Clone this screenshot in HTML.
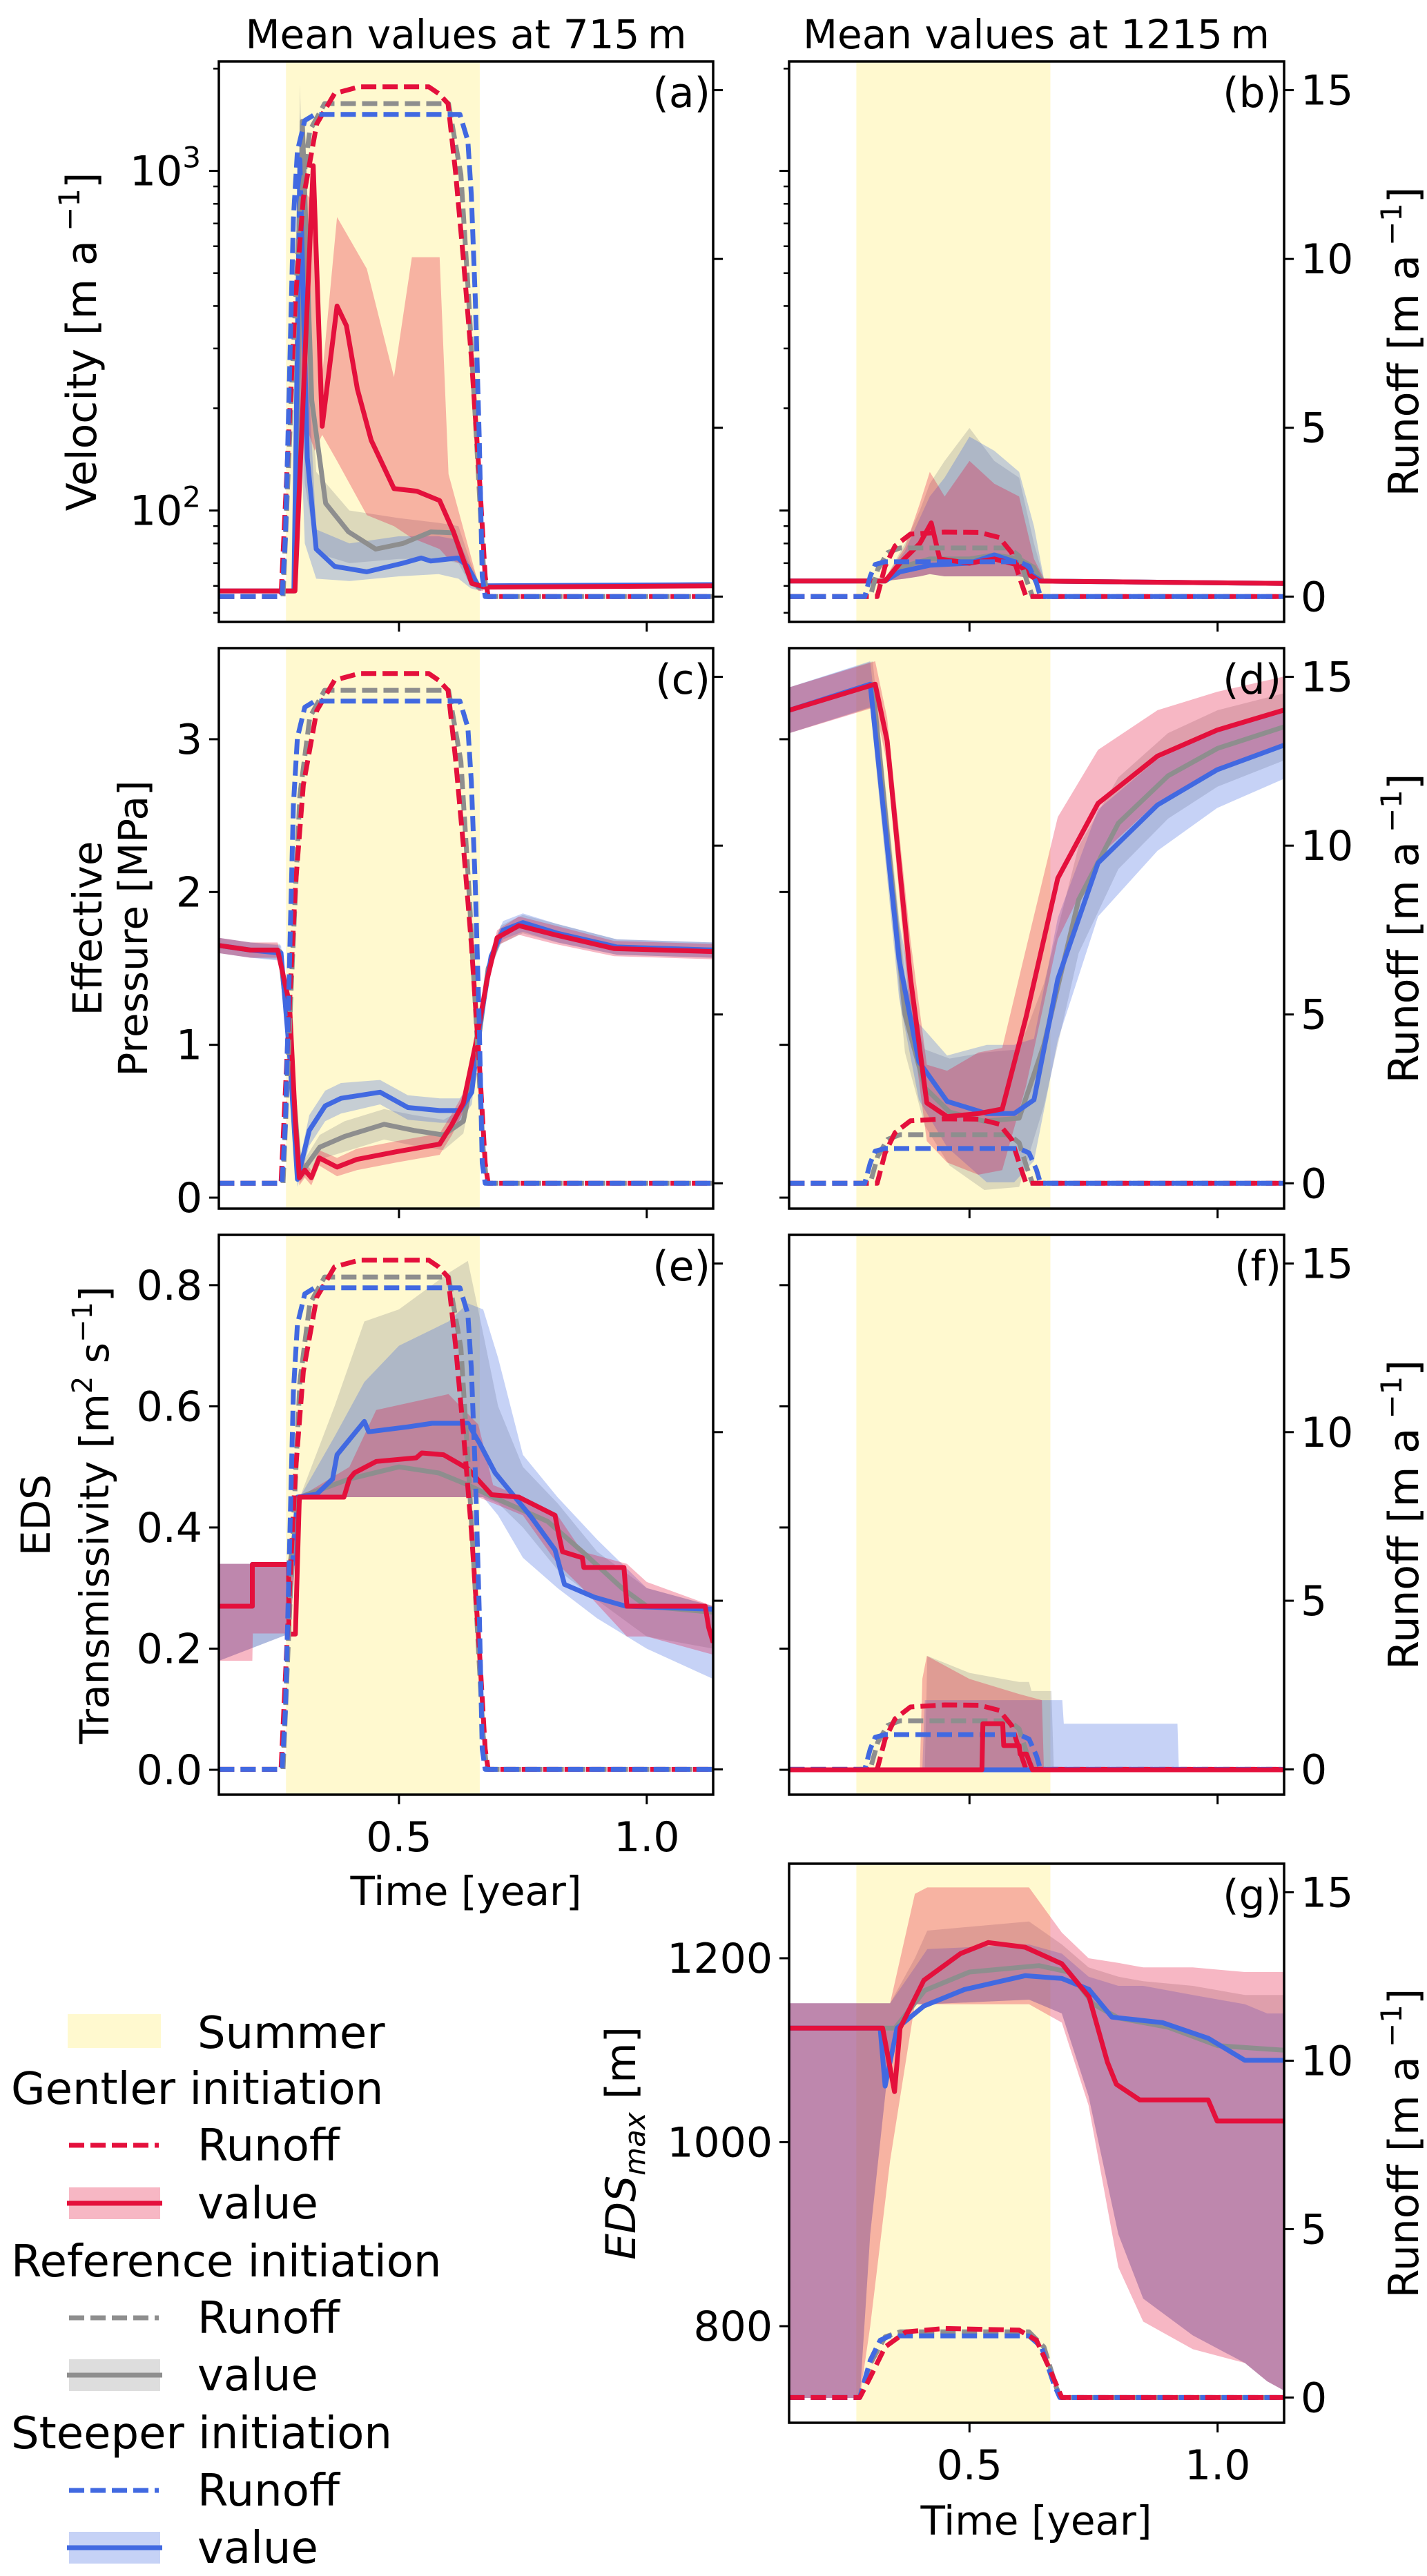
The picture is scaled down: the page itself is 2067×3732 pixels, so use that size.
<!DOCTYPE html>
<html><head><meta charset="utf-8"><style>
html,body{margin:0;padding:0;background:#fff}
svg{display:block}
text{font-family:"DejaVu Sans","Liberation Sans",sans-serif;fill:#000}
</style></head><body>
<svg id="fig" width="2067" height="3732" viewBox="0 0 2067 3732" xmlns="http://www.w3.org/2000/svg"></svg>
<script>
// ---------- DATA ----------
const summerStart = 0.272, summerEnd = 0.663;
const xTicks = [0.5, 1.0];
const xTickLabels = ["0.5", "1.0"];
const runoffTicks = [0, 5, 10, 15];

// Runoff 715 m
const runRed715T = [0.137,0.262,0.279,0.291,0.307,0.334,0.37,0.42,0.56,0.58,0.599,0.614,0.63,0.646,0.662,0.674,0.68,1.134];
const runRed715V = [0,0,5.3,8.8,11.8,14.0,14.9,15.1,15.1,14.9,14.6,12.6,10,7.1,3.6,0.6,0,0];
const runGray715T = [0.137,0.266,0.283,0.3,0.32,0.35,0.6,0.625,0.64,0.655,0.67,0.677,1.134];
const runGray715V = [0,0,6,11.5,13.8,14.6,14.6,12.5,9,5,1,0,0];
const runBlue715T = [0.137,0.264,0.271,0.279,0.287,0.295,0.31,0.33,0.623,0.639,0.646,0.654,0.662,0.668,0.674,1.134];
const runBlue715V = [0,0,1.8,6.5,11.2,13.2,14.1,14.28,14.28,13.5,11.9,8.8,4.7,0.6,0,0];
// Runoff 1215 m
const runRed1215T = [0.137,0.314,0.33,0.35,0.381,0.45,0.52,0.56,0.585,0.6,0.614,1.134];
const runRed1215V = [0,0,0.9,1.5,1.85,1.91,1.9,1.75,1.3,0.6,0,0];
const runGray1215T = [0.137,0.3,0.315,0.335,0.36,0.58,0.6,0.615,0.627,1.134];
const runGray1215V = [0,0,0.8,1.3,1.44,1.44,1.2,0.5,0,0];
const runBlue1215T = [0.137,0.289,0.3,0.31,0.33,0.6,0.62,0.635,0.643,1.134];
const runBlue1215V = [0,0,0.6,0.95,1.03,1.03,0.9,0.4,0,0];
// Runoff panel g
const runRedGT = [0.137,0.279,0.3,0.33,0.372,0.45,0.6,0.635,0.66,0.686,1.134];
const runRedGV = [0,0,0.6,1.5,1.95,2.05,2.0,1.7,0.9,0,0];
const runGrayGT = [0.137,0.279,0.3,0.33,0.36,0.62,0.65,0.675,0.684,1.134];
const runGrayGV = [0,0,1.0,1.8,1.95,1.95,1.5,0.3,0,0];
const runBlueGT = [0.137,0.279,0.3,0.32,0.34,0.62,0.645,0.67,0.682,1.134];
const runBlueGV = [0,0,1.1,1.7,1.83,1.83,1.5,0.4,0,0];

// Panel a: velocity (log)
const aTicks = [100, 1000];
const aRedT = [0.137,0.29,0.327,0.345,0.375,0.394,0.416,0.444,0.49,0.536,0.582,0.61,0.647,0.674,1.134];
const aRedV = [58,58,1036,177,400,350,228,161,116,114,107,86.5,61,59.5,60];
const aGrayT = [0.137,0.29,0.305,0.324,0.352,0.398,0.453,0.508,0.564,0.61,0.638,0.66,1.134];
const aGrayV = [58,58,1400,211,105,86.6,77,80,86.5,86,66,59.5,60.5];
const aBlueT = [0.137,0.288,0.3,0.315,0.333,0.37,0.435,0.508,0.545,0.564,0.619,0.638,0.66,1.134];
const aBlueV = [58,58,1080,143,77,68.5,66,70,72.5,71,72.5,68.5,60,60.5];
const aRedBT = [0.29,0.3,0.33,0.345,0.375,0.435,0.49,0.526,0.582,0.6,0.638,0.66,0.67];
const aRedHi = [58,900,800,250,731,515,247,557,557,128,80,61,59];
const aRedLo = [57,200,150,167,140,97,90,83,77,72,68.5,58,58];
const aGrayBT = [0.29,0.3,0.31,0.333,0.4,0.5,0.58,0.62,0.645,0.665];
const aGrayHi = [58,1800,600,130,100,95,92,90,70,60];
const aGrayLo = [57,300,120,75,70,72,72,70,60,58];
const aBlueHi = [58,1500,400,88,80,84,84,82,68,60];
const aBlueLo = [57,200,80,63,62,64,65,63,59,58];

// Panel b
const bRedT = [0.137,0.33,0.36,0.4,0.423,0.44,0.5,0.55,0.6,0.625,0.64,1.134];
const bRedV = [62,62,70,80,92,72,70,72,69,64,62,61];
const bGrayT = [0.137,0.33,0.36,0.42,0.5,0.55,0.6,0.63,0.645,1.134];
const bGrayV = [62,62,68,72,72,74,72,68,62,61];
const bBlueV = [62,62,66,69,70,74,70,64,62,61];
const bBT = [0.33,0.37,0.4,0.42,0.45,0.5,0.55,0.6,0.63,0.65];
const bRedHi = [63,78,105,130,110,140,120,110,72,63];
const bGrayHi = [63,80,100,120,140,175,140,125,80,63];
const bBlueHi = [63,76,95,110,125,165,150,130,90,63];
const bLo = [62,63,64,65,64,64,64,64,63,62];

// Panel c: effective pressure
const cTicks = [0,1,2,3];
const cRedT = [0.137,0.2,0.255,0.279,0.291,0.299,0.31,0.323,0.339,0.375,0.415,0.495,0.582,0.607,0.63,0.655,0.678,0.698,0.742,0.815,0.934,1.134];
const cRedV = [1.65,1.62,1.62,1.27,0.49,0.13,0.18,0.13,0.26,0.2,0.25,0.3,0.35,0.48,0.62,1.01,1.43,1.7,1.78,1.72,1.63,1.61];
const cRedS = [0.05,0.05,0.05,0.05,0.05,0.05,0.05,0.05,0.05,0.06,0.07,0.07,0.07,0.07,0.06,0.05,0.05,0.05,0.06,0.06,0.05,0.05];
const cBlueT = [0.137,0.2,0.262,0.28,0.295,0.319,0.351,0.383,0.462,0.518,0.582,0.623,0.647,0.662,0.686,0.71,0.75,0.82,0.94,1.134];
const cBlueV = [1.65,1.62,1.6,0.9,0.12,0.44,0.6,0.65,0.69,0.59,0.57,0.57,0.69,1.11,1.58,1.75,1.8,1.73,1.64,1.62];
const cBlueS = [0.05,0.05,0.05,0.05,0.05,0.1,0.1,0.1,0.08,0.08,0.08,0.08,0.08,0.06,0.05,0.06,0.06,0.06,0.05,0.05];
const cGrayT = [0.137,0.2,0.26,0.28,0.3,0.34,0.39,0.47,0.53,0.59,0.63,0.655,0.68,0.705,0.75,0.82,0.94,1.134];
const cGrayV = [1.65,1.62,1.61,1.0,0.15,0.33,0.4,0.48,0.44,0.41,0.5,0.9,1.5,1.72,1.79,1.73,1.64,1.62];
const cGrayS = [0.05,0.05,0.05,0.05,0.05,0.08,0.1,0.1,0.1,0.1,0.08,0.06,0.05,0.06,0.06,0.06,0.05,0.05];

// Panel d
const dRedT = [0.137,0.31,0.334,0.381,0.414,0.455,0.518,0.566,0.614,0.678,0.759,0.879,0.999,1.133];
const dRedV = [3.19,3.36,2.99,1.44,0.62,0.53,0.55,0.58,1.18,2.09,2.58,2.89,3.06,3.19];
const dRedS = [0.15,0.15,0.15,0.25,0.25,0.3,0.4,0.4,0.45,0.4,0.35,0.3,0.25,0.22];
const dBlueT = [0.137,0.3,0.358,0.398,0.455,0.535,0.59,0.63,0.678,0.759,0.879,0.999,1.133];
const dBlueV = [3.19,3.36,1.56,0.89,0.63,0.55,0.55,0.64,1.43,2.19,2.57,2.8,2.96];
const dBlueS = [0.15,0.15,0.25,0.25,0.3,0.45,0.45,0.4,0.4,0.35,0.3,0.25,0.22];
const dGrayT = [0.137,0.305,0.37,0.41,0.46,0.53,0.6,0.65,0.72,0.8,0.9,1.0,1.133];
const dGrayV = [3.19,3.36,1.2,0.72,0.56,0.5,0.52,1.0,1.95,2.45,2.76,2.94,3.08];
const dGrayS = [0.15,0.15,0.25,0.25,0.35,0.45,0.45,0.4,0.35,0.3,0.28,0.25,0.22];

// Panel e: transmissivity
const eTicks = [0,0.2,0.4,0.6,0.8];
const eTickLabels = ["0.0","0.2","0.4","0.6","0.8"];
const eRedT = [0.137,0.204,0.2041,0.277,0.278,0.291,0.299,0.389,0.4,0.41,0.454,0.535,0.546,0.59,0.639,0.687,0.742,0.815,0.822,0.83,0.87,0.873,0.954,0.96,1.118,1.125,1.134];
const eRedV = [0.27,0.27,0.339,0.339,0.224,0.224,0.45,0.45,0.48,0.49,0.509,0.515,0.523,0.52,0.497,0.454,0.45,0.42,0.39,0.36,0.35,0.334,0.334,0.27,0.27,0.235,0.21];
const eBlueT = [0.137,0.204,0.2041,0.277,0.285,0.295,0.334,0.366,0.375,0.43,0.439,0.518,0.567,0.639,0.662,0.694,0.766,0.815,0.834,0.894,0.958,1.134];
const eBlueV = [0.27,0.27,0.339,0.339,0.339,0.45,0.455,0.48,0.52,0.575,0.558,0.566,0.572,0.572,0.54,0.49,0.418,0.363,0.306,0.285,0.27,0.265];
const eGrayT = [0.137,0.204,0.2041,0.28,0.3,0.4,0.5,0.58,0.64,0.69,0.8,0.87,0.95,1.0,1.134];
const eGrayV = [0.27,0.27,0.339,0.339,0.45,0.48,0.5,0.49,0.47,0.45,0.41,0.36,0.3,0.27,0.26];
const eRedBT = [0.137,0.204,0.205,0.277,0.28,0.299,0.4,0.454,0.6,0.66,0.69,0.75,0.82,0.87,0.96,1.0,1.134];
const eRedHi = [0.34,0.34,0.34,0.34,0.34,0.45,0.5,0.594,0.62,0.57,0.47,0.45,0.42,0.36,0.34,0.31,0.27];
const eRedLo = [0.18,0.18,0.225,0.225,0.225,0.45,0.45,0.45,0.45,0.45,0.44,0.42,0.34,0.3,0.22,0.22,0.19];
const eGrayBT = [0.137,0.28,0.3,0.37,0.43,0.5,0.6,0.639,0.67,0.7,0.75,0.82,0.9,1.0,1.134];
const eGrayHi = [0.34,0.34,0.45,0.6,0.74,0.76,0.82,0.84,0.72,0.6,0.5,0.44,0.36,0.3,0.27];
const eGrayLo = [0.18,0.225,0.45,0.45,0.45,0.45,0.45,0.45,0.45,0.44,0.4,0.33,0.28,0.22,0.2];
const eBlueHi = [0.34,0.34,0.45,0.55,0.64,0.7,0.74,0.77,0.76,0.68,0.52,0.45,0.38,0.3,0.27];
const eBlueLo = [0.18,0.225,0.45,0.45,0.45,0.45,0.45,0.45,0.45,0.42,0.35,0.3,0.25,0.2,0.15];

// Panel f
const fRedT = [0.137,0.525,0.527,0.567,0.569,0.6,0.602,0.615,0.62,0.627,1.134];
const fRedV = [0,0,0.076,0.076,0.04,0.04,0.026,0.026,0.015,0,0];
const fFlatT = [0.137,1.134];
const fFlatV = [0,0];
const fRedBT = [0.4,0.405,0.414,0.5,0.6,0.646,0.65];
const fRedHi = [0,0.15,0.188,0.15,0.125,0.115,0];
const fGrayBT = [0.41,0.415,0.5,0.6,0.62,0.625,0.665,0.67];
const fGrayHi = [0,0.188,0.16,0.145,0.145,0.13,0.13,0];
const fBlueBT = [0.405,0.41,0.687,0.69,0.919,0.922];
const fBlueHi = [0,0.115,0.115,0.076,0.076,0];

// Panel g: EDS max
const gTicks = [800,1000,1200];
const gRedT = [0.137,0.325,0.349,0.36,0.408,0.482,0.538,0.612,0.686,0.741,0.778,0.796,0.843,0.981,0.999,1.134];
const gRedV = [1124,1124,1055,1124,1176,1205,1217,1212,1194,1158,1087,1063,1046,1046,1023,1023];
const gBlueT = [0.137,0.32,0.33,0.354,0.408,0.49,0.612,0.686,0.741,0.787,0.889,0.981,1.055,1.134];
const gBlueV = [1124,1124,1061,1124,1148,1166,1181,1178,1166,1136,1130,1113,1089,1089];
const gGrayT = [0.137,0.35,0.41,0.5,0.64,0.7,0.75,0.8,0.9,1.0,1.134];
const gGrayV = [1124,1124,1165,1185,1192,1185,1150,1135,1125,1105,1100];
const gBT = [0.137,0.279,0.3,0.34,0.39,0.415,0.62,0.686,0.74,0.8,0.85,0.95,1.055,1.1,1.134];
const gRedHi = [1151,1151,1151,1151,1270,1277,1277,1228,1200,1195,1190,1190,1185,1185,1185];
const gRedLo = [722,722,800,980,1150,1150,1150,1130,1040,864,805,775,760,740,730];
const gGrayHi = [1151,1151,1151,1151,1200,1230,1240,1215,1190,1180,1175,1170,1160,1160,1160];
const gGrayLo = [722,722,900,1100,1150,1150,1155,1140,1050,900,830,790,760,740,730];
const gBlueHi = [1151,1151,1151,1151,1190,1210,1215,1205,1180,1170,1170,1160,1150,1140,1140];
const gBlueLo = [722,722,900,1100,1150,1150,1155,1140,1050,900,830,790,760,740,730];

// ---------- RENDERING ----------
const NS = "http://www.w3.org/2000/svg";
const svg = document.getElementById("fig");
const RED = "#e4103c", GRAY = "#8e8e8e", BLUE = "#4169e1", SUMMER = "#fff9cf";
function el(tag, attrs, parent) {
  const e = document.createElementNS(NS, tag);
  for (const k in attrs) e.setAttribute(k, attrs[k]);
  (parent || svg).appendChild(e);
  return e;
}
const X0 = 0.1365, X1 = 1.134;
const R0 = -0.75, R1 = 15.85;
function makePanel(id, x0, x1, y0, y1, ymin, ymax, log) {
  const p = {id, x0, x1, y0, y1};
  p.sx = t => x0 + (t - X0) / (X1 - X0) * (x1 - x0);
  if (log) {
    const l0 = Math.log10(ymin), l1 = Math.log10(ymax);
    p.sy = v => y1 - (Math.log10(v) - l0) / (l1 - l0) * (y1 - y0);
  } else p.sy = v => y1 - (v - ymin) / (ymax - ymin) * (y1 - y0);
  p.sr = v => y1 - (v - R0) / (R1 - R0) * (y1 - y0);
  p.g = el("g", {});
  
  
  const cp = el("clipPath", {id: "clip-" + id}, p.g);
  el("rect", {x: x0, y: y0, width: x1 - x0, height: y1 - y0}, cp);
  p.plot = el("g", {"clip-path": "url(#clip-" + id + ")"}, p.g);
  const s = el("rect", {x: p.sx(summerStart), y: y0, width: p.sx(summerEnd) - p.sx(summerStart), height: y1 - y0, fill: SUMMER}, p.plot);
  
  
  return p;
}
function line(p, T, V, color, name, dashed, useR) {
  const f = useR ? p.sr : p.sy;
  const d = T.map((t, i) => (i ? "L" : "M") + p.sx(t).toFixed(1) + "," + f(V[i]).toFixed(1)).join(" ");
  const e = el("path", {d, fill: "none", stroke: color, "stroke-width": 7, "stroke-linejoin": "round", "stroke-dasharray": dashed ? "22,9" : "none"}, p.plot);
  
  
}
function band(p, T, LO, HI, color, name) {
  let d = T.map((t, i) => (i ? "L" : "M") + p.sx(t).toFixed(1) + "," + p.sy(HI[i]).toFixed(1)).join(" ");
  for (let i = T.length - 1; i >= 0; i--) d += " L" + p.sx(T[i]).toFixed(1) + "," + p.sy(LO[i]).toFixed(1);
  const e = el("path", {d: d + " Z", fill: color, "fill-opacity": 0.3, stroke: "none"}, p.plot);
  
  
}
function spreadBand(p, T, V, S, color, name) {
  band(p, T, V.map((v, i) => v - S[i]), V.map((v, i) => v + S[i]), color, name);
}
function frame(p, letter, bottomLabels, rightTicks) {
  const f = el("rect", {x: p.x0, y: p.y0, width: p.x1 - p.x0, height: p.y1 - p.y0, fill: "none", stroke: "#000", "stroke-width": 3.5}, p.g);
  
  
  xTicks.forEach((t, i) => {
    el("line", {x1: p.sx(t), x2: p.sx(t), y1: p.y1, y2: p.y1 + 14, stroke: "#000", "stroke-width": 3}, p.g);
    if (bottomLabels) {
      const tx = el("text", {x: p.sx(t), y: p.y1 + 82, "font-size": 60, "text-anchor": "middle"}, p.g);
      tx.textContent = xTickLabels[i];
      
      
    }
  });
  runoffTicks.forEach(v => {
    el("line", {x1: p.x1, x2: p.x1 + 14, y1: p.sr(v), y2: p.sr(v), stroke: "#000", "stroke-width": 3}, p.g);
    if (rightTicks) {
      const tx = el("text", {x: p.x1 + 24, y: p.sr(v) + 21, "font-size": 60}, p.g);
      tx.textContent = String(v);
      
      
    }
  });
  const lt = el("text", {x: p.x1 - 4, y: p.y0 + 66, "font-size": 60, "text-anchor": "end"}, p.g);
  lt.textContent = letter;
  
  
  const rl = el("text", {x: 0, y: 0, "font-size": 60, "text-anchor": "middle", transform: "translate(2054," + ((p.y0 + p.y1) / 2) + ") rotate(-90)"}, p.g);
  rl.innerHTML = 'Runoff [m a<tspan font-size="42" dy="-24"> \u22121</tspan><tspan dy="24">]</tspan>';
  
  
}
function yTicks(p, vals, labels, showLabels) {
  vals.forEach((v, i) => {
    el("line", {x1: p.x0 - 14, x2: p.x0, y1: p.sy(v), y2: p.sy(v), stroke: "#000", "stroke-width": 3}, p.g);
    if (showLabels) {
      const tx = el("text", {x: p.x0 - 24, y: p.sy(v) + 21, "font-size": 60, "text-anchor": "end"}, p.g);
      tx.textContent = labels[i];
      
      
    }
  });
}
function runoffs(p, set) {
  set.forEach(r => line(p, r[0], r[1], r[2], r[3], true, true));
}
const run715 = [[runGray715T, runGray715V, GRAY, "runoff-reference"], [runRed715T, runRed715V, RED, "runoff-gentler"], [runBlue715T, runBlue715V, BLUE, "runoff-steeper"]];
const run1215 = [[runGray1215T, runGray1215V, GRAY, "runoff-reference"], [runRed1215T, runRed1215V, RED, "runoff-gentler"], [runBlue1215T, runBlue1215V, BLUE, "runoff-steeper"]];
const runG = [[runGrayGT, runGrayGV, GRAY, "runoff-reference"], [runBlueGT, runBlueGV, BLUE, "runoff-steeper"], [runRedGT, runRedGV, RED, "runoff-gentler"]];

const C1 = [317, 1033], C2 = [1143, 1860];
const ROWS = [[89, 901], [939, 1751], [1789, 2600], [2700, 3510]];

// (a)
const pa = makePanel("a", C1[0], C1[1], ROWS[0][0], ROWS[0][1], 47, 2100, true);
band(pa, aGrayBT, aGrayLo, aGrayHi, GRAY, "band-reference");
band(pa, aGrayBT, aBlueLo, aBlueHi, BLUE, "band-steeper");
band(pa, aRedBT, aRedLo, aRedHi, RED, "band-gentler");
line(pa, aGrayT, aGrayV, GRAY, "value-reference");
line(pa, aBlueT, aBlueV, BLUE, "value-steeper");
line(pa, aRedT, aRedV, RED, "value-gentler");
runoffs(pa, run715);
const minorA = [50,60,70,80,90,200,300,400,500,600,700,800,900,2000];
function logTicks(p, show) {
  minorA.forEach(v => el("line", {x1: p.x0 - 8, x2: p.x0, y1: p.sy(v), y2: p.sy(v), stroke: "#000", "stroke-width": 2.5}, p.g));
  aTicks.forEach(v => {
    el("line", {x1: p.x0 - 14, x2: p.x0, y1: p.sy(v), y2: p.sy(v), stroke: "#000", "stroke-width": 3}, p.g);
    if (show) {
      const tx = el("text", {x: p.x0 - 26, y: p.sy(v) + 21, "font-size": 60, "text-anchor": "end"}, p.g);
      tx.innerHTML = '10<tspan font-size="42" dy="-26">' + Math.round(Math.log10(v)) + '</tspan>';
      
      
    }
  });
}
logTicks(pa, true);
frame(pa, "(a)", false, false);

// (b)
const pb = makePanel("b", C2[0], C2[1], ROWS[0][0], ROWS[0][1], 47, 2100, true);
band(pb, bBT, bLo, bGrayHi, GRAY, "band-reference");
band(pb, bBT, bLo, bBlueHi, BLUE, "band-steeper");
band(pb, bBT, bLo, bRedHi, RED, "band-gentler");
line(pb, bGrayT, bGrayV, GRAY, "value-reference");
line(pb, bGrayT, bBlueV, BLUE, "value-steeper");
line(pb, bRedT, bRedV, RED, "value-gentler");
runoffs(pb, run1215);
logTicks(pb, false);
frame(pb, "(b)", false, true);

// (c)
const pc = makePanel("c", C1[0], C1[1], ROWS[1][0], ROWS[1][1], -0.072, 3.596, false);
spreadBand(pc, cGrayT, cGrayV, cGrayS, GRAY, "band-reference");
spreadBand(pc, cBlueT, cBlueV, cBlueS, BLUE, "band-steeper");
spreadBand(pc, cRedT, cRedV, cRedS, RED, "band-gentler");
line(pc, cGrayT, cGrayV, GRAY, "value-reference");
line(pc, cBlueT, cBlueV, BLUE, "value-steeper");
line(pc, cRedT, cRedV, RED, "value-gentler");
runoffs(pc, run715);
yTicks(pc, cTicks, cTicks.map(String), true);
frame(pc, "(c)", false, false);

// (d)
const pd = makePanel("d", C2[0], C2[1], ROWS[1][0], ROWS[1][1], -0.072, 3.596, false);
spreadBand(pd, dGrayT, dGrayV, dGrayS, GRAY, "band-reference");
spreadBand(pd, dBlueT, dBlueV, dBlueS, BLUE, "band-steeper");
spreadBand(pd, dRedT, dRedV, dRedS, RED, "band-gentler");
line(pd, dGrayT, dGrayV, GRAY, "value-reference");
line(pd, dBlueT, dBlueV, BLUE, "value-steeper");
line(pd, dRedT, dRedV, RED, "value-gentler");
runoffs(pd, run1215);
yTicks(pd, cTicks, [], false);
frame(pd, "(d)", false, true);

// (e)
const pe = makePanel("e", C1[0], C1[1], ROWS[2][0], ROWS[2][1], -0.041, 0.883, false);
band(pe, eGrayBT, eGrayLo, eGrayHi, GRAY, "band-reference");
band(pe, eGrayBT, eBlueLo, eBlueHi, BLUE, "band-steeper");
band(pe, eRedBT, eRedLo, eRedHi, RED, "band-gentler");
line(pe, eGrayT, eGrayV, GRAY, "value-reference");
line(pe, eBlueT, eBlueV, BLUE, "value-steeper");
line(pe, eRedT, eRedV, RED, "value-gentler");
runoffs(pe, run715);
yTicks(pe, eTicks, eTickLabels, true);
frame(pe, "(e)", true, false);

// (f)
const pf = makePanel("f", C2[0], C2[1], ROWS[2][0], ROWS[2][1], -0.041, 0.883, false);
band(pf, fGrayBT, fGrayBT.map(() => 0), fGrayHi, GRAY, "band-reference");
band(pf, fBlueBT, fBlueBT.map(() => 0), fBlueHi, BLUE, "band-steeper");
band(pf, fRedBT, fRedBT.map(() => 0), fRedHi, RED, "band-gentler");
runoffs(pf, run1215);
line(pf, fFlatT, fFlatV, GRAY, "value-reference");
line(pf, fFlatT, fFlatV, BLUE, "value-steeper");
line(pf, fRedT, fRedV, RED, "value-gentler");
yTicks(pf, eTicks, [], false);
frame(pf, "(f)", false, true);

// (g)
const pg = makePanel("g", C2[0], C2[1], ROWS[3][0], ROWS[3][1], 695, 1302.8, false);
band(pg, gBT, gGrayLo, gGrayHi, GRAY, "band-reference");
band(pg, gBT, gBlueLo, gBlueHi, BLUE, "band-steeper");
band(pg, gBT, gRedLo, gRedHi, RED, "band-gentler");
line(pg, gGrayT, gGrayV, GRAY, "value-reference");
line(pg, gBlueT, gBlueV, BLUE, "value-steeper");
line(pg, gRedT, gRedV, RED, "value-gentler");
runoffs(pg, runG);
yTicks(pg, gTicks, gTicks.map(String), true);
frame(pg, "(g)", true, true);

// ---------- TEXT ----------
function txt(x, y, s, size, name, extra) {
  const t = el("text", Object.assign({x, y, "font-size": size}, extra || {}));
  t.innerHTML = s;
  
  
  return t;
}
txt(675, 70, "Mean values at 715\u2009m", 58, "column-title-715", {"text-anchor": "middle"});
txt(1501, 70, "Mean values at 1215\u2009m", 58, "column-title-1215", {"text-anchor": "middle"});
txt(675, 2760, "Time [year]", 58, "x-axis-title", {"text-anchor": "middle"});
txt(1501, 3672, "Time [year]", 58, "x-axis-title-g", {"text-anchor": "middle"});
txt(0, 0, 'Velocity [m a<tspan font-size="42" dy="-24"> \u22121</tspan><tspan dy="24">]</tspan>', 60, "y-axis-title-velocity", {"text-anchor": "middle", transform: "translate(139,495) rotate(-90)"});
txt(0, 0, "Effective", 58, "y-axis-title-pressure-1", {"text-anchor": "middle", transform: "translate(147,1345) rotate(-90)"});
txt(0, 0, "Pressure [MPa]", 58, "y-axis-title-pressure-2", {"text-anchor": "middle", transform: "translate(213,1345) rotate(-90)"});
txt(0, 0, "EDS", 58, "y-axis-title-eds-1", {"text-anchor": "middle", transform: "translate(72,2195) rotate(-90)"});
txt(0, 0, 'Transmissivity [m<tspan font-size="40" dy="-24">2</tspan><tspan dy="24"> s</tspan><tspan font-size="40" dy="-24">\u22121</tspan><tspan dy="24">]</tspan>', 58, "y-axis-title-eds-2", {"text-anchor": "middle", transform: "translate(157,2195) rotate(-90)"});
txt(0, 0, '<tspan font-style="italic">EDS</tspan><tspan font-style="italic" font-size="42" dy="14">max</tspan><tspan dy="-14"> [m]</tspan>', 60, "y-axis-title-edsmax", {"text-anchor": "middle", transform: "translate(920,3105) rotate(-90)"});

// ---------- LEGEND ----------
const lg = el("g", {});


let r = el("rect", {x: 98, y: 2918, width: 135, height: 49, fill: SUMMER}, lg);


const legendRows = [
  ["Summer", 286, 2967, null, null],
  ["Gentler initiation", 16, 3048, null, null],
  ["Runoff", 286, 3130, RED, "dash"],
  ["value", 286, 3214, RED, "val"],
  ["Reference initiation", 16, 3298, null, null],
  ["Runoff", 286, 3380, GRAY, "dash"],
  ["value", 286, 3463, GRAY, "val"],
  ["Steeper initiation", 16, 3547, null, null],
  ["Runoff", 286, 3630, BLUE, "dash"],
  ["value", 286, 3713, BLUE, "val"]
];
legendRows.forEach(row => {
  const t = el("text", {x: row[1], y: row[2], "font-size": 64}, lg);
  t.textContent = row[0];
  
  
  const cy = row[2] - 22;
  if (row[4] === "dash") {
    el("line", {x1: 100, x2: 230, y1: cy, y2: cy, stroke: row[3], "stroke-width": 7, "stroke-dasharray": "22,9"}, lg);
  } else if (row[4] === "val") {
    el("rect", {x: 100, y: cy - 23, width: 132, height: 46, fill: row[3], "fill-opacity": 0.3}, lg);
    el("line", {x1: 97, x2: 235, y1: cy, y2: cy, stroke: row[3], "stroke-width": 7}, lg);
  }
});
</script>
</body></html>
